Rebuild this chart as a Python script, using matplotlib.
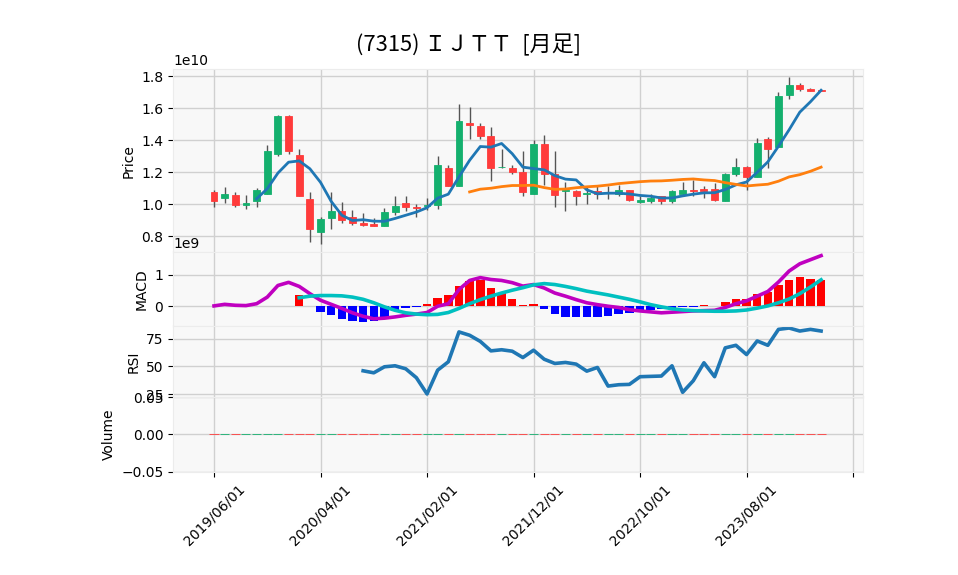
import numpy as np
import matplotlib
matplotlib.use("Agg")
import matplotlib.pyplot as plt

nan = np.nan

# ---------------- Data (monthly, 2019/06 .. 2024/03) ----------------
opens = [1.077, 1.041, 1.056, 0.991, 1.016, 1.066, 1.316, 1.552, 1.308, 1.033,
         0.8225, 0.910, 0.956, 0.920, 0.883, 0.877, 0.860, 0.948, 1.006, 0.983,
         0.985, 0.991, 1.227, 1.116, 1.508, 1.490, 1.427, 1.229, 1.225, 1.202,
         1.066, 1.377, 1.1875, 1.079, 1.083, 1.060, 1.081, 1.067, 1.065, 1.089,
         1.010, 1.019, 1.0475, 1.019, 1.066, 1.089, 1.095, 1.095, 1.019, 1.1875,
         1.233, 1.167, 1.406, 1.358, 1.681, 1.746, 1.718, 1.712]
highs = [1.089, 1.106, 1.077, 1.054, 1.100, 1.369, 1.560, 1.556, 1.344, 1.077,
         0.916, 1.0725, 1.010, 0.9625, 0.944, 0.910, 0.977, 1.0475, 1.0475, 1.002,
         1.040, 1.302, 1.244, 1.627, 1.606, 1.506, 1.481, 1.344, 1.246, 1.333,
         1.398, 1.431, 1.333, 1.1375, 1.089, 1.116, 1.1125, 1.110, 1.1185, 1.090,
         1.0475, 1.0625, 1.050, 1.089, 1.1375, 1.152, 1.110, 1.131, 1.194, 1.2875,
         1.235, 1.416, 1.4225, 1.704, 1.7975, 1.756, 1.725, 1.715]
lows = [0.981, 1.006, 0.981, 0.971, 0.981, 1.066, 1.300, 1.314, 1.0475, 0.7625,
        0.750, 0.844, 0.879, 0.871, 0.860, 0.860, 0.860, 0.931, 0.956, 0.917,
        0.960, 0.969, 1.110, 1.116, 1.408, 1.408, 1.146, 1.223, 1.1875, 1.0475,
        1.066, 1.119, 0.981, 0.956, 0.994, 1.000, 1.033, 1.030, 1.050, 1.016,
        1.006, 1.006, 1.000, 1.006, 1.050, 1.0475, 1.035, 1.016, 1.019, 1.173,
        1.085, 1.167, 1.225, 1.358, 1.656, 1.706, 1.710, 1.706]
closes = [1.016, 1.0625, 0.991, 1.008, 1.0875, 1.333, 1.552, 1.329, 1.0475, 0.844,
          0.906, 0.956, 0.8975, 0.879, 0.871, 0.860, 0.950, 0.989, 0.979, 0.973,
          0.996, 1.2456, 1.116, 1.520, 1.494, 1.425, 1.225, 1.233, 1.200, 1.0725,
          1.377, 1.185, 1.054, 1.089, 1.0475, 1.069, 1.0625, 1.074, 1.085, 1.0225,
          1.025, 1.039, 1.020, 1.083, 1.089, 1.079, 1.079, 1.0225, 1.1875, 1.233,
          1.169, 1.383, 1.3475, 1.677, 1.746, 1.720, 1.710, 1.708]
volumes = [0] * 58

ma5 = [nan] * 4 + [
    1.033, 1.096, 1.194, 1.262, 1.270, 1.221, 1.136, 1.017, 0.930, 0.897,
    0.902, 0.893, 0.892, 0.910, 0.930, 0.950, 0.977, 1.037, 1.062, 1.170,
    1.274, 1.360, 1.356, 1.379, 1.315, 1.231, 1.222, 1.214, 1.178, 1.156,
    1.151, 1.089, 1.064, 1.068, 1.068, 1.063, 1.054, 1.049, 1.038, 1.038,
    1.051, 1.062, 1.070, 1.071, 1.091, 1.120, 1.138, 1.199, 1.264, 1.362,
    1.465, 1.575, 1.640, 1.712]
ma25 = [nan] * 24 + [
    1.076, 1.093, 1.099, 1.109, 1.116, 1.116, 1.118, 1.103, 1.092, 1.094,
    1.102, 1.108, 1.112, 1.119, 1.128, 1.134, 1.140, 1.144, 1.145, 1.149,
    1.154, 1.157, 1.151, 1.147, 1.134, 1.123, 1.113, 1.119, 1.124, 1.143,
    1.170, 1.184, 1.205, 1.231]

macd = [0.01, 0.06, 0.03, 0.02, 0.08, 0.29, 0.66, 0.76, 0.63, 0.40,
        0.19, 0.06, -0.07, -0.21, -0.32, -0.40, -0.38, -0.34, -0.29, -0.25,
        -0.20, 0.00, 0.08, 0.53, 0.82, 0.91, 0.85, 0.82, 0.75, 0.64,
        0.69, 0.58, 0.42, 0.32, 0.21, 0.11, 0.05, 0.00, -0.04, -0.11,
        -0.15, -0.18, -0.21, -0.19, -0.17, -0.15, -0.14, -0.13, -0.04, 0.08,
        0.17, 0.32, 0.47, 0.77, 1.12, 1.35, 1.48, 1.61]
signal = [nan] * 8 + [
    0.27, 0.32, 0.34, 0.34, 0.33, 0.29, 0.22, 0.11, -0.02, -0.13,
    -0.21, -0.25, -0.27, -0.26, -0.20, -0.07, 0.08, 0.21, 0.32, 0.42,
    0.51, 0.59, 0.68, 0.72, 0.69, 0.63, 0.56, 0.48, 0.42, 0.36,
    0.29, 0.22, 0.14, 0.05, -0.02, -0.08, -0.12, -0.14, -0.15, -0.16,
    -0.16, -0.15, -0.12, -0.06, 0.01, 0.11, 0.23, 0.40, 0.61, 0.84]
hist = [nan] * 8 + [
    0.35, 0.02, -0.18, -0.28, -0.40, -0.46, -0.50, -0.48, -0.34, -0.15,
    -0.06, -0.01, 0.06, 0.27, 0.35, 0.63, 0.79, 0.84, 0.59, 0.43,
    0.24, 0.03, 0.06, -0.08, -0.24, -0.33, -0.34, -0.34, -0.34, -0.31,
    -0.26, -0.23, -0.14, -0.11, -0.08, -0.06, -0.03, -0.01, 0.03, 0.00,
    0.12, 0.22, 0.22, 0.38, 0.46, 0.66, 0.84, 0.92, 0.87, 0.82]
rsi = [nan] * 14 + [
    46.1, 44.3, 49.7, 50.6, 47.9, 39.9, 25.3, 46.7, 54.2, 81.0,
    78.0, 72.5, 64.0, 65.0, 63.7, 58.0, 64.6, 56.5, 52.7, 53.6,
    52.1, 45.8, 49.1, 32.4, 33.6, 33.9, 40.8, 41.1, 41.4, 50.6,
    26.8, 37.2, 53.3, 40.8, 66.7, 69.0, 60.7, 72.9, 69.0, 83.3,
    84.5, 81.8, 83.3, 81.8]

tick_pos = [0, 10, 20, 30, 40, 50, 60]
tick_labels = ["2019/06/01", "2020/04/01", "2021/02/01", "2021/12/01",
               "2022/10/01", "2023/08/01", ""]

title = "(7315) ＩＪＴＴ  [月足]"

# ---------------- Style ----------------
UP, DOWN, WICK = "#14b06e", "#ff3b3b", "#555555"
FACE, GRID = "#f8f8f8", "#d0d0d0"
plt.rcParams["font.size"] = 10

o = np.array(opens) * 1e10
h = np.array(highs) * 1e10
l = np.array(lows) * 1e10
c = np.array(closes) * 1e10
x = np.arange(len(c))
up = c >= o
cols = np.where(up, UP, DOWN)

fig = plt.figure(figsize=(9.58, 5.75), dpi=100)
L, W = 0.1806, 0.7203
ax_p = fig.add_axes([L, 0.5609, W, 0.3191])
ax_m = fig.add_axes([L, 0.4330, W, 0.1279], sharex=ax_p)
ax_r = fig.add_axes([L, 0.3096, W, 0.1234], sharex=ax_p)
ax_v = fig.add_axes([L, 0.1791, W, 0.1305], sharex=ax_p)

for ax in (ax_p, ax_m, ax_r, ax_v):
    ax.set_facecolor(FACE)
    ax.grid(True, color=GRID, lw=1.0)
    ax.set_axisbelow(True)
    for s in ax.spines.values():
        s.set_color("#ececec")
    ax.set_xticks(tick_pos)
for ax in (ax_p, ax_m, ax_r):
    ax.tick_params(axis="x", bottom=False, labelbottom=False)

# candles
ax_p.vlines(x, l, h, color=WICK, lw=1.0, zorder=2)
ax_p.bar(x, np.abs(c - o), bottom=np.minimum(o, c), width=0.65,
         color=cols, edgecolor=cols, lw=0.6, zorder=3)
ax_p.plot(x, np.array(ma5) * 1e10, color="#1f77b4", lw=2.0, zorder=4)
ax_p.plot(x, np.array(ma25) * 1e10, color="#ff7f0e", lw=2.0, zorder=4)
ax_p.set_ylim(0.697e10, 1.845e10)
ax_p.set_ylabel("Price")

# MACD
hv = np.array(hist) * 1e9
ax_m.bar(x, hv, width=0.8, color=np.where(hv >= 0, "red", "blue"), zorder=2)
ax_m.plot(x, np.array(macd) * 1e9, color="#c000c0", lw=2.6, zorder=3)
ax_m.plot(x, np.array(signal) * 1e9, color="#00c0c0", lw=2.6, zorder=3)
ax_m.set_ylim(-0.63e9, 1.71e9)
ax_m.set_yticks([0, 1e9])
ax_m.set_ylabel("MACD")

# RSI
ax_r.plot(x, rsi, color="#1f77b4", lw=2.6)
ax_r.set_ylim(22.6, 86.3)
ax_r.set_yticks([25, 50, 75])
ax_r.set_ylabel("RSI")

# Volume
ax_v.bar(x, volumes, width=0.85, color=cols, edgecolor=cols, lw=0.6)
ax_v.set_ylim(-0.0505, 0.0505)
ax_v.set_yticks([-0.05, 0.0, 0.05])
ax_v.set_ylabel("Volume")
ax_v.set_xticklabels(tick_labels, rotation=45, ha="center")
ax_v.set_xlim(-3.85, 60.94)

fig.text(0.489, 0.921, title, ha="center", va="center", fontsize=15.8,
         family=["Noto Sans CJK JP", "DejaVu Sans"])

fig.savefig("out.png", dpi=100)
